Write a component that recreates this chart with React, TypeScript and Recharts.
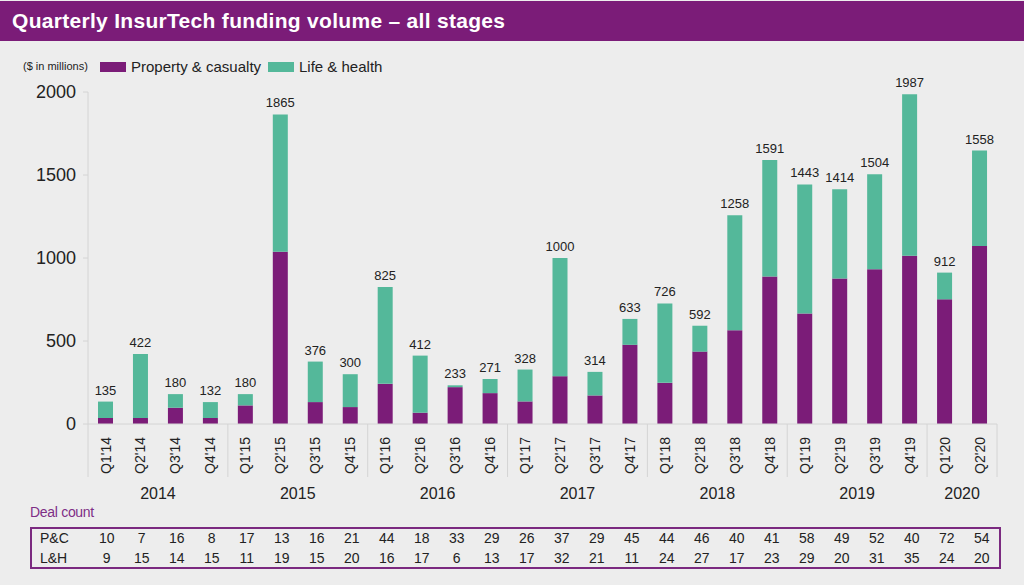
import React from "react";
import { BarChart, Bar, XAxis, YAxis, LabelList } from "recharts";

const quarters = [
  "Q1'14", "Q2'14", "Q3'14", "Q4'14",
  "Q1'15", "Q2'15", "Q3'15", "Q4'15",
  "Q1'16", "Q2'16", "Q3'16", "Q4'16",
  "Q1'17", "Q2'17", "Q3'17", "Q4'17",
  "Q1'18", "Q2'18", "Q3'18", "Q4'18",
  "Q1'19", "Q2'19", "Q3'19", "Q4'19",
  "Q1'20", "Q2'20",
];

const propertyCasualty = [
  36, 36, 98, 36,
  112, 1037, 132, 102,
  242, 68, 222, 186,
  136, 288, 172, 477,
  248, 436, 565, 889,
  665, 877, 932, 1013,
  751, 1073,
];
const lifeHealth = [
  99, 386, 82, 96,
  68, 828, 244, 198,
  583, 344, 11, 85,
  192, 712, 142, 156,
  478, 156, 693, 702,
  778, 537, 572, 974,
  161, 574,
];
const totalLabels = [
  "135", "422", "180", "132",
  "180", "1865", "376", "300",
  "825", "412", "233", "271",
  "328", "1000", "314", "633",
  "726", "592", "1258", "1591",
  "1443", "1414", "1504", "1987",
  "912", "1558",
];
const yTicks = [0, 500, 1000, 1500, 2000];

const dealCountPC = [10, 7, 16, 8, 17, 13, 16, 21, 44, 18, 33, 29, 26, 37, 29, 45, 44, 46, 40, 41, 58, 49, 52, 40, 72, 54];
const dealCountLH = [9, 15, 14, 15, 11, 19, 15, 20, 16, 17, 6, 13, 17, 32, 21, 11, 24, 27, 17, 23, 29, 20, 31, 35, 24, 20];

const PURPLE = "#7B1C78";
const GREEN = "#54B89A";
const BG = "#EDEDED";
const TEXT = "#222222";
const AXIS = "#D4D4D4";
const FONT = "'Liberation Sans', Arial, sans-serif";

const W = 1024;
const H = 585;
const MARGIN = { top: 92, right: 27, bottom: 0, left: 0 };
const Y_W = 88;
const X_H = 161;
const PLOT_W = W - MARGIN.left - MARGIN.right - Y_W;
const AXIS_Y = H - MARGIN.bottom - X_H;

const data = quarters.map((q, i) => ({
  q,
  pc: propertyCasualty[i],
  lh: lifeHealth[i],
  label: totalLabels[i],
}));

const yearOf = (q: string) => "20" + q.slice(-2);

const XTick = (props: any) => {
  const { x, payload } = props;
  const band = PLOT_W / quarters.length;
  let i = typeof props.index === "number" ? props.index : payload?.index;
  if (typeof i !== "number") i = quarters.indexOf(payload.value);
  const q = quarters[i];
  const yr = yearOf(q);
  let s = i;
  while (s > 0 && yearOf(quarters[s - 1]) === yr) s--;
  let e = i;
  while (e < quarters.length - 1 && yearOf(quarters[e + 1]) === yr) e++;
  const items: any[] = [];
  const labelTop = AXIS_Y + 13;
  items.push(
    <text
      key="t"
      x={x}
      y={labelTop}
      transform={`rotate(-90, ${x}, ${labelTop})`}
      textAnchor="end"
      dy="0.36em"
      fontSize={14}
      fill={TEXT}
      fontFamily={FONT}
    >
      {q}
    </text>
  );
  if (i === s) {
    items.push(
      <line key="ls" x1={x - band / 2} x2={x - band / 2} y1={AXIS_Y} y2={AXIS_Y + 53} stroke={AXIS} strokeWidth={1} />
    );
    items.push(
      <text
        key="yr"
        x={x + ((e - s) / 2) * band}
        y={AXIS_Y + 75}
        textAnchor="middle"
        fontSize={16}
        fill={TEXT}
        fontFamily={FONT}
      >
        {yr}
      </text>
    );
  }
  if (i === quarters.length - 1) {
    items.push(
      <line key="le" x1={x + band / 2} x2={x + band / 2} y1={AXIS_Y} y2={AXIS_Y + 53} stroke={AXIS} strokeWidth={1} />
    );
  }
  return <g>{items}</g>;
};

const YTick = (props: any) => {
  const { x, y, payload } = props;
  return (
    <text x={x} y={y} dy="0.36em" textAnchor="end" fontSize={18} fill={TEXT} fontFamily={FONT}>
      {payload.value}
    </text>
  );
};

const DealTable = () => {
  const x0 = 106.7;
  const step = 35;
  return (
    <svg width={W} height={H} style={{ position: "absolute", left: 0, top: 0, pointerEvents: "none" }}>
      <text x={30} y={517} fontSize={14} fill="#7E2E86" fontFamily={FONT} letterSpacing={-0.3}>
        Deal count
      </text>
      <rect x={31} y={528} width={969} height={40} fill="none" stroke="#7B2A80" strokeWidth={2} />
      <text x={40} y={543} fontSize={14} fill={TEXT} fontFamily={FONT}>P&amp;C</text>
      <text x={40} y={563} fontSize={14} fill={TEXT} fontFamily={FONT}>L&amp;H</text>
      {dealCountPC.map((v, i) => (
        <text key={"p" + i} x={x0 + i * step} y={543} textAnchor="middle" fontSize={14} fill={TEXT} fontFamily={FONT}>
          {v}
        </text>
      ))}
      {dealCountLH.map((v, i) => (
        <text key={"l" + i} x={x0 + i * step} y={563} textAnchor="middle" fontSize={14} fill={TEXT} fontFamily={FONT}>
          {v}
        </text>
      ))}
    </svg>
  );
};

const Legend = () => (
  <div style={{ position: "absolute", left: 0, top: 0, width: W, height: 90, fontFamily: FONT, color: TEXT }}>
    <div style={{ position: "absolute", left: 23, top: 60, fontSize: 11, whiteSpace: "nowrap" }}>($ in millions)</div>
    <div style={{ position: "absolute", left: 100, top: 62, width: 26, height: 10, background: PURPLE }} />
    <div style={{ position: "absolute", left: 131, top: 58, fontSize: 15, whiteSpace: "nowrap" }}>Property &amp; casualty</div>
    <div style={{ position: "absolute", left: 268, top: 62, width: 26, height: 10, background: GREEN }} />
    <div style={{ position: "absolute", left: 299, top: 58, fontSize: 15, whiteSpace: "nowrap" }}>Life &amp; health</div>
  </div>
);

export default function App() {
  return (
    <div style={{ position: "absolute", left: 0, top: 0, width: W, height: H, background: BG, overflow: "hidden" }}>
      <div
        style={{
          position: "absolute",
          left: 0,
          top: 1,
          width: W,
          height: 40,
          background: PURPLE,
          color: "#FFFFFF",
          fontFamily: FONT,
          fontWeight: 700,
          fontSize: 21,
          letterSpacing: 0.3,
          lineHeight: "40px",
          paddingLeft: 12,
          boxSizing: "border-box",
          whiteSpace: "nowrap",
        }}
      >
        Quarterly InsurTech funding volume – all stages
      </div>
      <Legend />
      <div style={{ position: "absolute", left: 0, top: 0 }}>
        <BarChart width={W} height={H} data={data} margin={MARGIN} barCategoryGap={0}>
          <XAxis
            dataKey="q"
            interval={0}
            height={X_H}
            tickLine={false}
            axisLine={{ stroke: AXIS }}
            tick={<XTick />}
          />
          <YAxis
            domain={[0, 2000]}
            ticks={yTicks}
            width={Y_W}
            tickSize={5}
            tickMargin={7}
            tickLine={{ stroke: AXIS }}
            axisLine={{ stroke: AXIS }}
            tick={<YTick />}
            allowDataOverflow
          />
          <Bar dataKey="pc" stackId="a" fill={PURPLE} barSize={15} isAnimationActive={false} />
          <Bar dataKey="lh" stackId="a" fill={GREEN} barSize={15} isAnimationActive={false}>
            <LabelList dataKey="label" position="top" offset={7} fontSize={13} fill={TEXT} fontFamily={FONT} />
          </Bar>
        </BarChart>
      </div>
      <DealTable />
    </div>
  );
}
